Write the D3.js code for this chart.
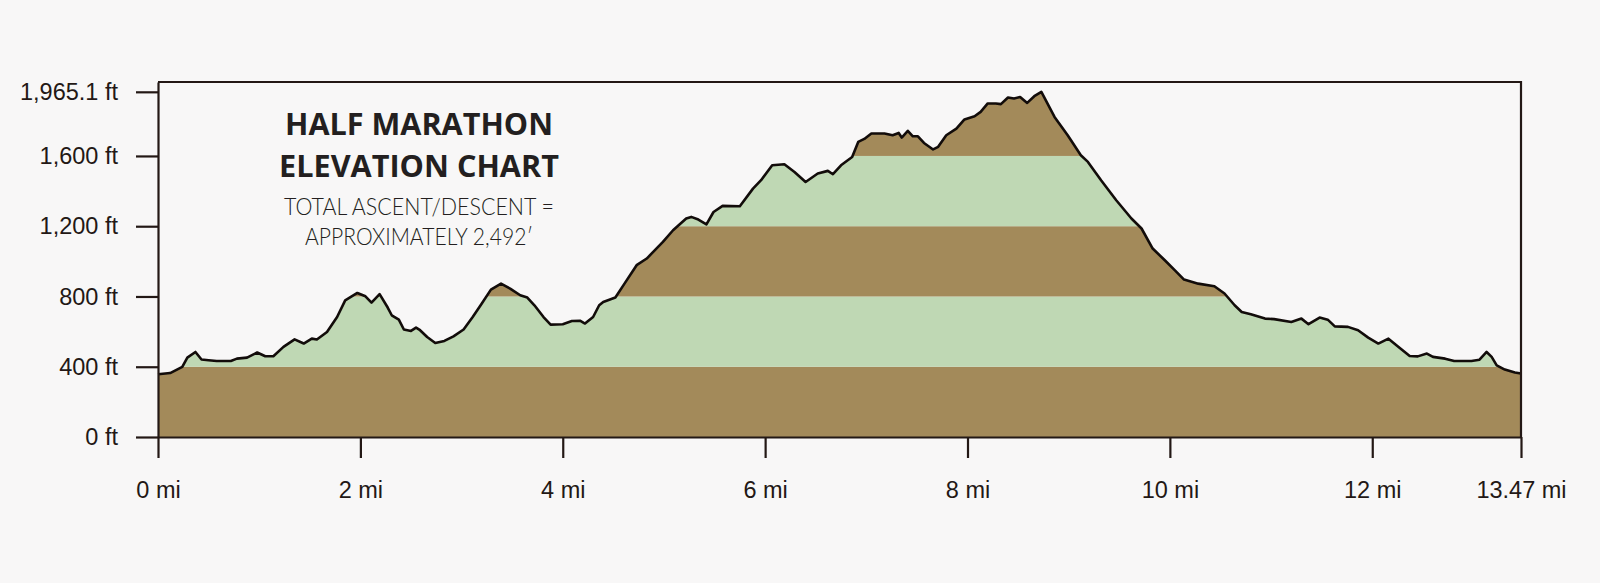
<!DOCTYPE html>
<html>
<head>
<meta charset="utf-8">
<script src="https://d3js.org/d3.v7.min.js"></script>
<style>
  html, body { margin: 0; padding: 0; background: #f8f7f7; }
  svg { display: block; }
  .tick text { font-family: "Liberation Sans", Arial, sans-serif; font-size: 23.5px; fill: #231815; }
</style>
</head>
<body>
<svg width="1600" height="583"></svg>
<script>
// distance along the course (mi) and elevation (ft)
var miles = [0.00,0.12,0.24,0.29,0.37,0.43,0.50,0.58,0.72,0.78,0.88,0.98,1.06,1.14,1.24,1.35,1.44,1.52,1.57,1.67,
  1.77,1.85,1.97,2.05,2.11,2.19,2.27,2.31,2.38,2.43,2.50,2.55,2.59,2.66,2.74,2.83,2.92,3.02,3.11,3.20,
  3.29,3.39,3.48,3.58,3.65,3.72,3.81,3.88,4.00,4.09,4.17,4.22,4.30,4.36,4.40,4.52,4.61,4.73,4.83,4.99,
  5.09,5.22,5.27,5.34,5.42,5.49,5.58,5.75,5.88,5.96,6.07,6.19,6.29,6.40,6.52,6.62,6.67,6.75,6.86,6.92,
  6.98,7.05,7.18,7.26,7.32,7.35,7.41,7.46,7.51,7.57,7.66,7.71,7.79,7.89,7.97,8.07,8.13,8.20,8.28,8.33,
  8.40,8.46,8.52,8.59,8.66,8.73,8.86,8.99,9.12,9.19,9.32,9.47,9.62,9.72,9.83,9.95,10.05,10.14,10.28,10.44,
  10.54,10.64,10.71,10.80,10.94,11.03,11.20,11.30,11.37,11.48,11.56,11.63,11.76,11.86,11.96,12.06,12.16,12.26,12.37,12.45,
  12.54,12.60,12.72,12.81,12.98,13.06,13.13,13.18,13.23,13.31,13.41,13.47];
var elevation = [357,364,399,452,484,441,437,433,433,446,452,481,460,460,513,556,532,560,555,598,
  683,778,820,801,765,813,737,693,668,612,604,623,608,569,535,547,573,612,683,760,
  839,873,845,807,794,750,683,640,642,660,662,646,683,750,769,794,873,978,1016,1111,
  1177,1244,1253,1238,1211,1281,1316,1314,1414,1462,1547,1553,1509,1452,1500,1515,1496,1547,1594,1680,
  1697,1728,1728,1718,1731,1705,1743,1712,1712,1674,1637,1652,1718,1756,1808,1826,1851,1899,1899,1895,
  1933,1927,1936,1902,1940,1965,1822,1718,1604,1566,1462,1348,1244,1187,1073,1006,949,896,873,858,
  817,750,712,699,674,671,655,674,642,680,668,630,627,608,566,532,560,513,461,459,
  475,456,446,433,433,440,484,456,408,384,367,361];

var yTicks = [0, 400, 800, 1200, 1600, 1965.1];
var xTicks = [0, 2, 4, 6, 8, 10, 12, 13.47];
var bandEdges = [0, 400, 800, 1200, 1600, 2021];
var bandColors = ["#a38a5a", "#bfd8b4"];

var titleLines = ["HALF MARATHON", "ELEVATION CHART"];
var noteLines = ["TOTAL ASCENT/DESCENT =", "APPROXIMATELY 2,492\u2032"];

var svg = d3.select("svg"),
    margin = {top: 82, right: 79, bottom: 146, left: 158},
    width = +svg.attr("width") - margin.left - margin.right,
    height = +svg.attr("height") - margin.top - margin.bottom,
    g = svg.append("g").attr("transform", "translate(" + margin.left + "," + margin.top + ")");

var x = d3.scaleLinear().domain([0, 13.47]).range([0, width]);
var y = d3.scaleLinear().domain([0, 2021]).range([height, 0]);

var profile = miles.map(function(m, i) { return [m, elevation[i]]; });

var area = d3.area()
    .x(function(d) { return x(d[0]); })
    .y0(height)
    .y1(function(d) { return y(d[1]); });

var line = d3.line()
    .x(function(d) { return x(d[0]); })
    .y(function(d) { return y(d[1]); });

g.append("clipPath").attr("id", "under")
  .append("path").attr("d", area(profile));

// alternating elevation bands, clipped to the ground
g.append("g").attr("clip-path", "url(#under)")
  .selectAll("rect")
  .data(d3.pairs(bandEdges))
  .join("rect")
    .attr("x", 0)
    .attr("width", width)
    .attr("y", function(d) { return y(d[1]); })
    .attr("height", function(d) { return y(d[0]) - y(d[1]); })
    .attr("fill", function(d, i) { return bandColors[i % 2]; });

g.append("path")
    .attr("d", line(profile))
    .attr("fill", "none")
    .attr("stroke", "#120c0a")
    .attr("stroke-width", 2.6)
    .attr("stroke-linejoin", "round");

// frame top and right
g.append("path")
    .attr("d", "M0,0H" + width + "V" + height)
    .attr("fill", "none")
    .attr("stroke", "#231815")
    .attr("stroke-width", 2.2);

var yAxis = g.append("g")
    .call(d3.axisLeft(y).tickValues(yTicks).tickSize(22).tickSizeOuter(0).tickPadding(18)
      .tickFormat(function(d) { return d3.format(",")(d) + " ft"; }));

var xAxis = g.append("g")
    .attr("transform", "translate(0," + height + ")")
    .call(d3.axisBottom(x).tickValues(xTicks).tickSize(21).tickSizeOuter(0).tickPadding(23)
      .tickFormat(function(d) { return d + " mi"; }));

[yAxis, xAxis].forEach(function(a) {
  a.select(".domain").attr("stroke", "#231815").attr("stroke-width", 2.2);
  a.selectAll(".tick line").attr("stroke", "#231815").attr("stroke-width", 2.2);
  a.selectAll(".tick text").attr("fill", "#231815");
});

var cx = 419;
svg.selectAll(".title")
  .data(titleLines)
  .join("text")
    .attr("class", "title")
    .attr("x", cx)
    .attr("y", function(d, i) { return 135 + i * 42; })
    .attr("text-anchor", "middle")
    .attr("textLength", function(d, i) { return [268, 280][i]; })
    .attr("lengthAdjust", "spacingAndGlyphs")
    .style("font-family", "'Open Sans', 'Noto Sans', sans-serif")
    .style("font-weight", "700")
    .style("font-size", "31px")
    .style("fill", "#231f20")
    .text(function(d) { return d; });

svg.selectAll(".note")
  .data(noteLines)
  .join("text")
    .attr("class", "note")
    .attr("x", cx)
    .attr("y", function(d, i) { return 215 + i * 30; })
    .attr("text-anchor", "middle")
    .attr("textLength", function(d, i) { return [270, 228][i]; })
    .attr("lengthAdjust", "spacingAndGlyphs")
    .style("font-family", "Lato, 'Open Sans', sans-serif")
    .style("font-weight", "300")
    .style("font-size", "23px")
    .style("fill", "#231f20")
    .text(function(d) { return d; });
</script>
</body>
</html>
